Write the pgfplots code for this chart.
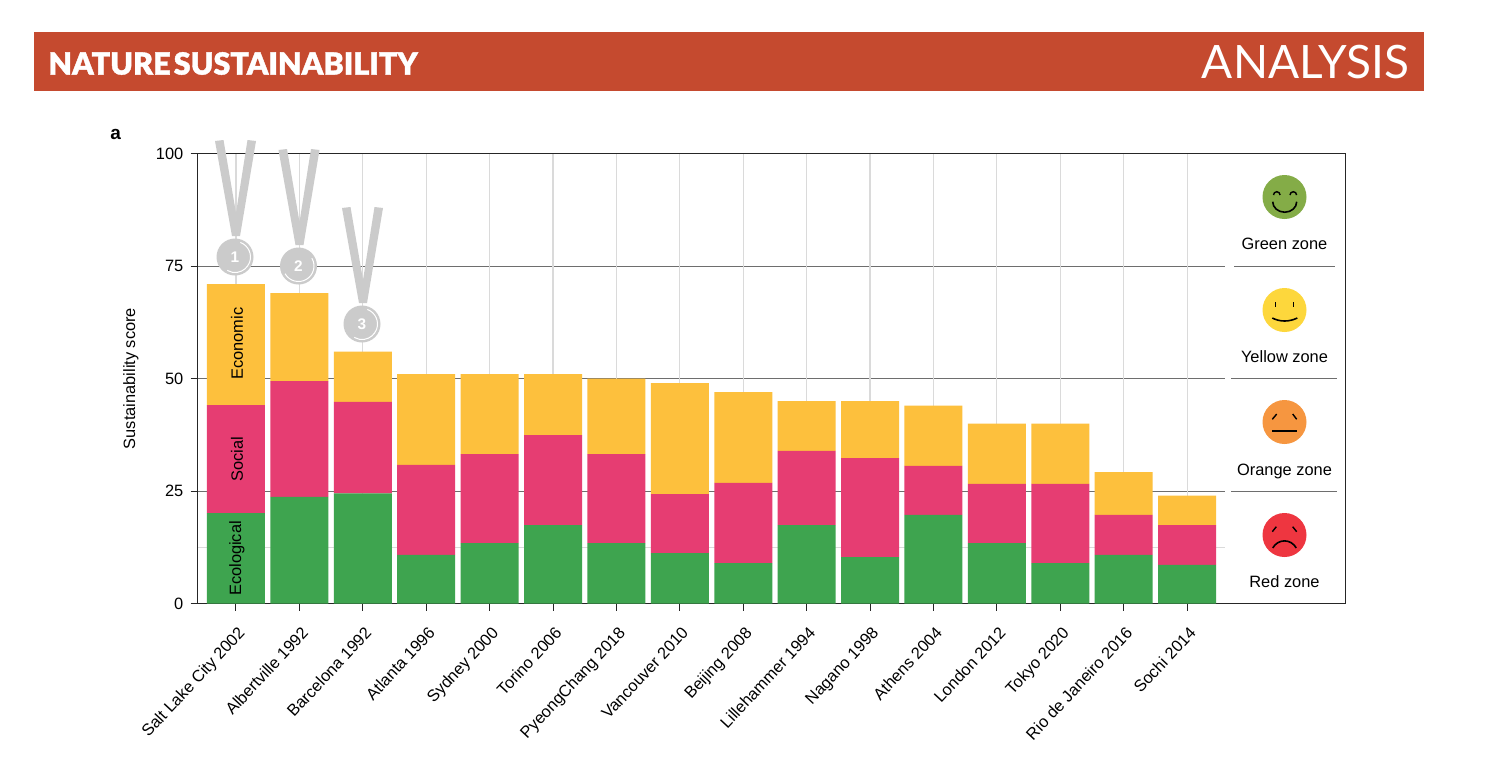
\documentclass[border=0pt]{standalone}
\usepackage{pgfplots}
\pgfplotsset{compat=1.18}
\usepackage{fontspec}
\setmainfont{Liberation Sans}
\newfontfamily\headbold{Lato Black}[FakeBold=1.3]
\newfontfamily\headreg{Lato}
\definecolor{hdr}{HTML}{C54A2F}
\definecolor{barO}{HTML}{FDC03D}
\definecolor{barP}{HTML}{E63D72}
\definecolor{barG}{HTML}{3EA44F}
\definecolor{medal}{HTML}{CBCBCB}
\definecolor{gridl}{HTML}{DADADA}
\definecolor{zoneline}{HTML}{6E6E6E}
\definecolor{fG}{HTML}{84AC47}
\definecolor{fY}{HTML}{FDD73C}
\definecolor{fO}{HTML}{F69640}
\definecolor{fR}{HTML}{EE3640}
\begin{document}
\begin{tikzpicture}
\begin{scope}[x=0.5pt,y=-0.5pt]
\path[use as bounding box,fill=white] (0,0) rectangle (1496,768);
\fill[hdr] (34,32) rectangle (1424,91);
\node[white,anchor=west,inner sep=0pt,font=\headbold\fontsize{15.25}{18}\selectfont] at (48,63.5) {NATURE\hspace{1.6pt}SUSTAINABILITY};
\node[white,anchor=east,inner sep=0pt,font=\headreg\fontsize{23}{26}\selectfont] at (1409.5,62) {ANALYSIS};
\node[anchor=base west,inner sep=0pt,font=\bfseries\fontsize{9.5}{10}\selectfont] at (110,139.5) {a};
% zone lines behind the bars
\draw[zoneline,line width=0.55pt] (198,266.5) -- (1224.5,266.5) (1234,266.5) -- (1335,266.5);
\draw[zoneline,line width=0.55pt] (198,378.5) -- (1224.5,378.5) (1231,378.5) -- (1337,378.5);
\draw[zoneline,line width=0.55pt] (198,491.5) -- (1224.5,491.5) (1231,491.5) -- (1337,491.5);
\draw[gridl,line width=0.55pt] (198,547.5) -- (1224.5,547.5);
\end{scope}
\begin{axis}[
  at={(98.85pt,-301.75pt)},anchor=south west,
  scale only axis,width=573.65pt,height=225pt,
  xmin=-0.604,xmax=17.49,ymin=0,ymax=100,
  ybar stacked,bar width=29pt,
  tick align=outside,tick pos=left,major tick length=3.5pt,
  xtick={0,...,15},
  xticklabels={Salt Lake City 2002,Albertville 1992,Barcelona 1992,Atlanta 1996,Sydney 2000,Torino 2006,PyeongChang 2018,Vancouver 2010,Beijing 2008,Lillehammer 1994,Nagano 1998,Athens 2004,London 2012,Tokyo 2020,Rio de Janeiro 2016,Sochi 2014},
  xticklabel style={rotate=47,anchor=north east,inner sep=1pt,yshift=-4.3pt,xshift=-4pt,font=\fontsize{8.2}{9}\selectfont},
  ytick={0,25,50,75,100},
  yticklabel style={inner sep=3.5pt,font=\fontsize{8.2}{9}\selectfont},
  /pgf/number format/assume math mode=true,
  ylabel={Sustainability score},
  ylabel style={font=\fontsize{8.2}{9}\selectfont,at={(axis description cs:0,0.5)},anchor=south,yshift=26pt},
  xmajorgrids,grid style={gridl,line width=0.6pt},
  axis line style={black!85,line width=0.5pt},
  tick style={black!85,line width=0.5pt},
  clip=false,
]
\addplot[fill=barG,draw=none] coordinates {(0,20.1)(1,23.7)(2,24.5)(3,10.8)(4,13.4)(5,17.4)(6,13.4)(7,11.2)(8,9)(9,17.4)(10,10.3)(11,19.7)(12,13.4)(13,9)(14,10.8)(15,8.6)};
\addplot[fill=barP,draw=none] coordinates {(0,24)(1,25.7)(2,20.3)(3,20)(4,19.8)(5,20)(6,19.8)(7,13.1)(8,17.8)(9,16.5)(10,22)(11,10.9)(12,13.2)(13,17.6)(14,8.9)(15,8.8)};
\addplot[fill=barO,draw=none] coordinates {(0,26.9)(1,19.6)(2,11.2)(3,20.2)(4,17.8)(5,13.6)(6,16.8)(7,24.7)(8,20.2)(9,11.1)(10,12.7)(11,13.4)(12,13.4)(13,13.4)(14,9.5)(15,6.6)};
\end{axis}
\begin{scope}[x=0.5pt,y=-0.5pt]
% labels on the first bar
\node[rotate=90,font=\fontsize{8.2}{9}\selectfont] at (237,558.5) {Ecological};
\node[rotate=90,font=\fontsize{8.2}{9}\selectfont] at (237,459.5) {Social};
\node[rotate=90,font=\fontsize{8.2}{9}\selectfont] at (237,343.5) {Economic};
% medals
\foreach \cx/\cy/\a/\d/\n in {235/257/-70/190/1,298.5/266/-30/180/2,362/324/-70/190/3}{
  \fill[medal] (\cx-20,\cy-116) -- (\cx-11.5,\cy-117) -- (\cx+1,\cy-44) -- (\cx+12.5,\cy-117) -- (\cx+21,\cy-116) -- (\cx+5,\cy-21) -- (\cx-3,\cy-21) -- cycle;
  \fill[medal] (\cx,\cy) circle (18.5);
  \draw[white,line width=0.5pt] (\cx,\cy) ++(\a:15.5) arc[start angle=\a,delta angle=\d,radius=15.5];
  \node[white,font=\fontsize{7.7}{9}\selectfont\bfseries] at (\cx,\cy) {\n};
}
% faces
\fill[fG] (1284.5,197) circle (22);
\draw[black,line width=0.7pt] (1273.5,195) arc[start angle=180,delta angle=180,radius=3.3] (1290,195) arc[start angle=180,delta angle=180,radius=3.3];
\draw[black,line width=0.8pt] (1272.7,201.7) arc[start angle=180,delta angle=-180,x radius=12,y radius=10.5];
\node[anchor=base,font=\fontsize{8.2}{9}\selectfont] at (1284.5,249.3) {Green zone};
\fill[fY] (1284.5,310) circle (22);
\draw[black,line width=0.7pt] (1275.7,302) -- (1275.7,307.3) (1293.3,302) -- (1293.3,307.3);
\draw[black,line width=0.8pt] (1272.3,318) .. controls (1280,322) and (1289,322) .. (1297.3,318);
\node[anchor=base,font=\fontsize{8.2}{9}\selectfont] at (1284.5,362.3) {Yellow zone};
\fill[fO] (1284.5,422) circle (22);
\draw[black,line width=0.7pt] (1272.3,419.3) -- (1276.7,414) (1292.7,414) -- (1296.7,419.3);
\draw[black,line width=0.8pt] (1272,430.7) -- (1297,430.7);
\node[anchor=base,font=\fontsize{8.2}{9}\selectfont] at (1284.5,475) {Orange zone};
\fill[fR] (1284.5,535) circle (22);
\draw[black,line width=0.7pt] (1272.3,531.7) -- (1276.3,526.7) (1292.7,526.7) -- (1296.7,531.7);
\draw[black,line width=0.8pt] (1272.7,548) .. controls (1278,538.5) and (1291,538.5) .. (1296.3,548);
\node[anchor=base,font=\fontsize{8.2}{9}\selectfont] at (1284.5,587.3) {Red zone};
\end{scope}
\end{tikzpicture}
\end{document}
